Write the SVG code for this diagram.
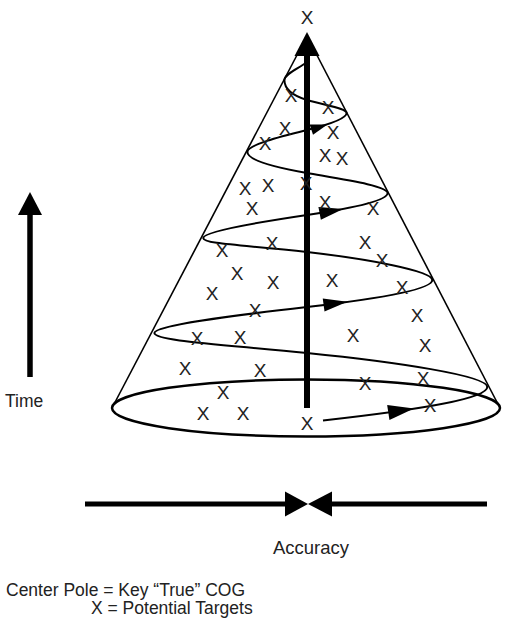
<svg xmlns="http://www.w3.org/2000/svg" width="525" height="625" viewBox="0 0 525 625">
<style>
  .x { font-family: "Liberation Sans", Arial, sans-serif; font-size: 19px; fill: #222; text-anchor: middle; }
  .lbl { font-family: "Liberation Sans", Arial, sans-serif; font-size: 17.5px; fill: #222; }
  .thin { fill: none; stroke: #000; stroke-width: 1.6; }
  .spiral { fill: none; stroke: #000; stroke-width: 2; }
  .thick { fill: none; stroke: #000; }
  .head { fill: #000; }
</style>
<rect width="525" height="625" fill="#fff"/>

<g id="cone">
  <line class="thin" x1="307" y1="36" x2="112" y2="408"/>
  <line class="thin" x1="307" y1="36" x2="500" y2="408"/>
  <ellipse cx="306" cy="408" rx="194" ry="28.5" fill="none" stroke="#000" stroke-width="2.5"/>
</g>

<g id="connectors">
  <path id="spiral" class="spiral" d="M323,420.5 C423,409.3 487.3,398.3 487.3,387
    C487.3,375.7 396.5,362 307,353
    C217.5,344 154.4,340.7 154.4,333
    C154.4,325.3 230.4,315.8 307,307
    C383.6,298.2 432.3,289.2 432.3,280
    C432.3,270.8 368,259 307,252
    C246,245 203.2,244.2 203.2,238
    C203.2,231.8 256.5,222.5 307,215
    C357.5,207.5 387.6,200 387.6,193
    C387.6,186 345.7,179.8 307,173
    C268.3,166.2 247.4,159.5 247.4,152
    C247.4,144.8 281,136.5 307,130
    C333,123.5 346.6,118 346.6,113
    C346.6,108 325.1,105.5 307,100
    C288.9,94.5 284.4,86.3 284.4,80
    C284.4,73.7 299.7,68 307,62"/>
  <polygon class="head" points="0,0 -26,-7.5 -26,7.5" transform="translate(414,408.5) rotate(-8.8)"/>
  <polygon class="head" points="0,0 -24,-6.5 -24,6.5" transform="translate(347.4,301.8) rotate(-7.8)"/>
  <polygon class="head" points="0,0 -24,-6.5 -24,6.5" transform="translate(343.2,208.9) rotate(-10.9)"/>
  <polygon class="head" points="0,0 -17,-5.5 -17,5.5" transform="translate(327.5,124.4) rotate(-17.9)"/>

  <g id="pole">
    <line class="thick" x1="307" y1="52" x2="307" y2="408" stroke-width="6"/>
    <polygon class="head" points="307,32 294.5,56 319.5,56"/>
  </g>

  <g id="time-arrow">
    <line class="thick" x1="30" y1="377" x2="30" y2="212" stroke-width="5.5"/>
    <polygon class="head" points="30,192 18,215 42,215"/>
  </g>

  <g id="accuracy-arrows">
    <line class="thick" x1="85" y1="504" x2="288" y2="504" stroke-width="5"/>
    <line class="thick" x1="329" y1="504" x2="487" y2="504" stroke-width="5"/>
    <polygon class="head" points="308,504 285,491.5 285,516.5"/>
    <polygon class="head" points="308,504 332,491.5 332,516.5"/>
  </g>
</g>

<g id="targets">
  <text class="x" x="307" y="24">X</text>
  <text class="x" x="291" y="102">X</text>
  <text class="x" x="328" y="114">X</text>
  <text class="x" x="285" y="135">X</text>
  <text class="x" x="333" y="139">X</text>
  <text class="x" x="265" y="150">X</text>
  <text class="x" x="325" y="162">X</text>
  <text class="x" x="342" y="165">X</text>
  <text class="x" x="245" y="195">X</text>
  <text class="x" x="268" y="192">X</text>
  <text class="x" x="306" y="190">X</text>
  <text class="x" x="252" y="215">X</text>
  <text class="x" x="325" y="209">X</text>
  <text class="x" x="373" y="215">X</text>
  <text class="x" x="272" y="250">X</text>
  <text class="x" x="222" y="257">X</text>
  <text class="x" x="365" y="249">X</text>
  <text class="x" x="382" y="267">X</text>
  <text class="x" x="237" y="280">X</text>
  <text class="x" x="273" y="289">X</text>
  <text class="x" x="332" y="287">X</text>
  <text class="x" x="402" y="294">X</text>
  <text class="x" x="212" y="300">X</text>
  <text class="x" x="255" y="317">X</text>
  <text class="x" x="417" y="322">X</text>
  <text class="x" x="353" y="342">X</text>
  <text class="x" x="197" y="345">X</text>
  <text class="x" x="240" y="344">X</text>
  <text class="x" x="425" y="352">X</text>
  <text class="x" x="185" y="375">X</text>
  <text class="x" x="260" y="377">X</text>
  <text class="x" x="365" y="390">X</text>
  <text class="x" x="423" y="385">X</text>
  <text class="x" x="223" y="399">X</text>
  <text class="x" x="430" y="412">X</text>
  <text class="x" x="203" y="420">X</text>
  <text class="x" x="243" y="420">X</text>
  <text class="x" x="307" y="430">X</text>
</g>

<g id="labels">
  <text class="lbl" x="5" y="407">Time</text>
  <text class="lbl" x="311" y="554" text-anchor="middle" style="font-size:18.5px">Accuracy</text>
  <text class="lbl" x="6" y="596">Center Pole = Key “True” COG</text>
  <text class="lbl" x="91" y="614">X = Potential Targets</text>
</g>
</svg>
